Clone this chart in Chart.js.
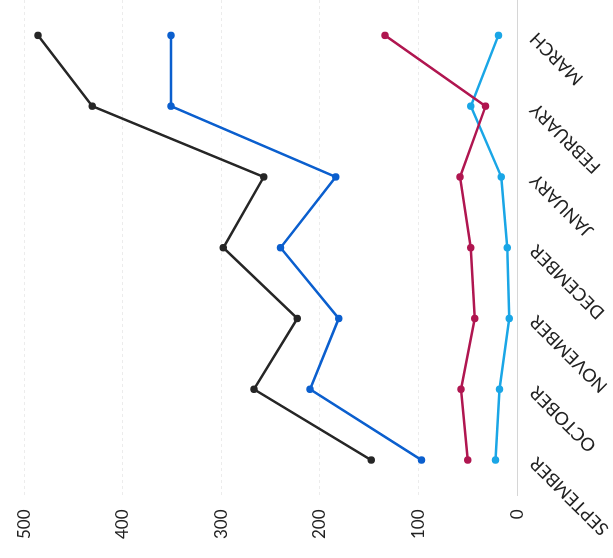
<!DOCTYPE html>
<html>
<head>
<meta charset="utf-8">
<script src="https://cdn.jsdelivr.net/npm/chart.js@4"></script>
<style>
  html, body { margin: 0; padding: 0; background: #fff; overflow: hidden; }
  #wrap {
    position: absolute; left: 0; top: 0;
    width: 558px; height: 613px;
    transform-origin: 0 0;
    transform: translate(0, 558px) rotate(-90deg);
  }
</style>
</head>
<body>
<div id="wrap"><canvas id="trendChart" width="558" height="613"></canvas></div>
<script>
// Months shown on the category axis
const months = ['SEPTEMBER', 'OCTOBER', 'NOVEMBER', 'DECEMBER', 'JANUARY', 'FEBRUARY', 'MARCH'];

// Series values
const seriesBlack = [148, 267, 223, 298, 257, 431, 486];
const seriesBlue = [97, 210, 181, 240, 184, 351, 351];
const seriesRed = [50, 57, 43, 47, 58, 32, 134];
const seriesLightBlue = [22, 18, 8, 10, 16, 47, 19];

const valueTicks = [0, 100, 200, 300, 400, 500];

function makeLine(data, color) {
    return {
        data: data,
        borderColor: color,
        backgroundColor: color,
        borderWidth: 2.5,
        pointRadius: 2.5,
        pointHoverRadius: 2.5,
        fill: false,
        tension: 0
    };
}

const ctx = document.getElementById('trendChart');

new Chart(ctx, {
    type: 'line',
    data: {
        labels: months,
        datasets: [
            makeLine(seriesBlack, '#262626'),
            makeLine(seriesBlue, '#0b5fce'),
            makeLine(seriesRed, '#b01650'),
            makeLine(seriesLightBlue, '#1aa6e6')
        ]
    },
    options: {
        responsive: false,
        animation: false,
        layout: { autoPadding: false, padding: { top: 10, right: 0, left: 0, bottom: 0 } },
        plugins: {
            legend: { display: false },
            tooltip: { enabled: false }
        },
        scales: {
            x: {
                offset: true,
                grid: { display: false, drawTicks: false },
                border: { display: true, color: '#d6d6d6', width: 1 },
                ticks: {
                    minRotation: 45,
                    maxRotation: 45,
                    padding: 10,
                    color: '#222',
                    font: { family: 'Lato', size: 18, lineHeight: 1 }
                },
                // labels reach the edge in the original, so give back the slack
                afterFit: function(scale) {
                    scale.height -= 9;
                }
            },
            y: {
                min: 0,
                max: 500,
                afterBuildTicks: function(axis) {
                    axis.ticks = valueTicks.map(function(v) { return { value: v }; });
                },
                afterFit: function(scale) {
                    scale.width += 5;
                },
                grid: { color: '#ececec', drawTicks: false },
                border: { display: false, dash: [3, 3] },
                ticks: {
                    padding: 14,
                    color: '#222',
                    font: { family: 'Lato', size: 17 }
                }
            }
        }
    }
});
</script>
</body>
</html>
